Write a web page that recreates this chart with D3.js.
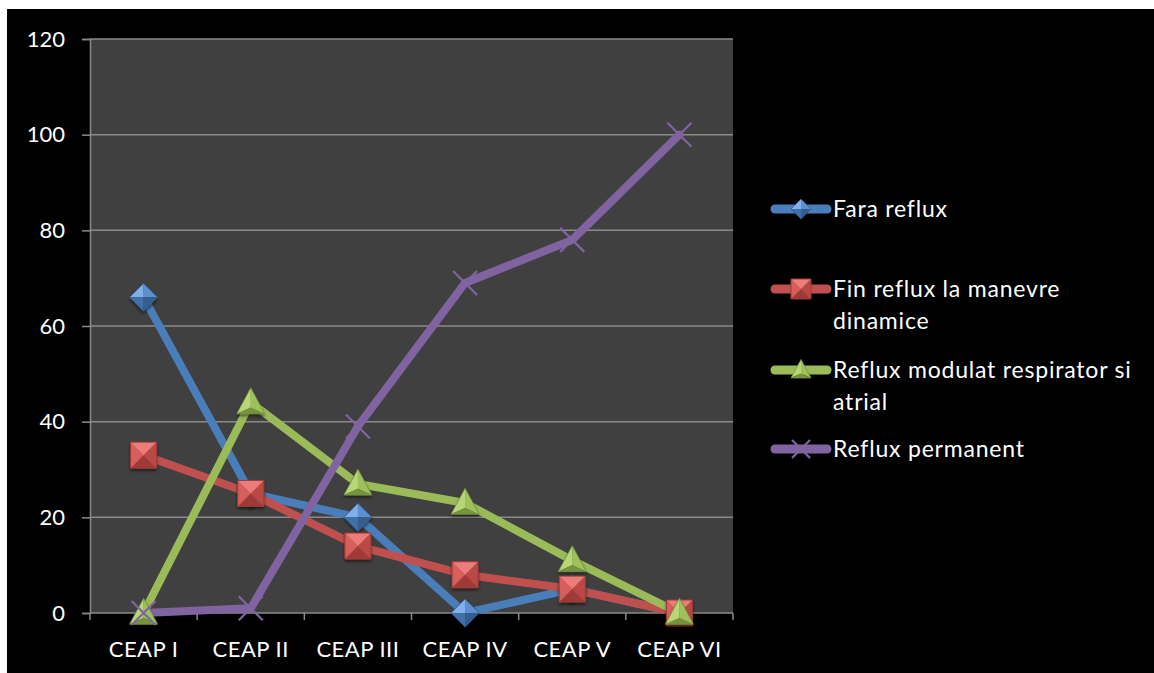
<!DOCTYPE html>
<html>
<head>
<meta charset="utf-8">
<script src="https://cdn.jsdelivr.net/npm/d3@7"></script>
<style>
  html, body { margin: 0; padding: 0; background: #fff; }
  svg { display: block; }
  text { font-family: Lato, "Open Sans", sans-serif; fill: #fff; }
</style>
</head>
<body>
<svg id="chart" width="1154" height="673"></svg>
<script>
// Categories, tick values and series
const categories = ["CEAP I", "CEAP II", "CEAP III", "CEAP IV", "CEAP V", "CEAP VI"];
const yTicks = [0, 20, 40, 60, 80, 100, 120];
const seriesNames = [
  "Fara reflux",
  "Fin reflux la manevre dinamice",
  "Reflux modulat respirator si atrial",
  "Reflux permanent"
];
const faraReflux = [66, 25, 20, 0, 5, 0];
const finReflux = [33, 25, 14, 8, 5, 0];
const refluxModulat = [0, 44, 27, 23, 11, 0];
const refluxPermanent = [0, 1, 39, 69, 78, 100];
const legendLines = [
  ["Fara reflux"],
  ["Fin reflux la manevre", "dinamice"],
  ["Reflux modulat respirator si", "atrial"],
  ["Reflux permanent"]
];

const series = [
  { name: seriesNames[0], values: faraReflux, color: "#4a7ebb", shape: "diamond",
    shades: ["#7fb0ea", "#5b90d0", "#3f6fa8", "#345d8e"] },
  { name: seriesNames[1], values: finReflux, color: "#c0504d", shape: "square",
    shades: ["#ec7d7a", "#d65f5c", "#b84845", "#9e3a37"] },
  { name: seriesNames[2], values: refluxModulat, color: "#9bbb59", shape: "triangle",
    shades: ["#b9d677", "#9fc15c", "#87a84a", "#76943f"] },
  { name: seriesNames[3], values: refluxPermanent, color: "#8064a2", shape: "x" }
];

const svg = d3.select("#chart");
const W = 1154, H = 673;

// Chart background (black panel with a thin white margin top/left)
svg.append("rect").attr("x", 7).attr("y", 9).attr("width", W - 7).attr("height", H - 9).attr("fill", "#000");

const plot = { left: 90, right: 733, top: 39, bottom: 613 };

const x = d3.scaleBand().domain(categories).range([plot.left, plot.right]).padding(0);
const y = d3.scaleLinear().domain([0, 120]).range([plot.bottom, plot.top]);
const cx = c => x(c) + x.bandwidth() / 2;

const defs = svg.append("defs");
const shadow = defs.append("filter").attr("id", "mshadow")
  .attr("x", "-50%").attr("y", "-50%").attr("width", "200%").attr("height", "200%");
shadow.append("feDropShadow").attr("dx", 0).attr("dy", 2).attr("stdDeviation", 1.5)
  .attr("flood-color", "#000").attr("flood-opacity", 0.55);

// Plot area
svg.append("rect")
  .attr("x", plot.left).attr("y", plot.top)
  .attr("width", plot.right - plot.left).attr("height", plot.bottom - plot.top)
  .attr("fill", "#404040");

// Horizontal gridlines
svg.append("g").selectAll("line").data(yTicks.filter(t => t > 0)).join("line")
  .attr("x1", plot.left).attr("x2", plot.right)
  .attr("y1", d => y(d)).attr("y2", d => y(d))
  .attr("stroke", "#8a8a8a").attr("stroke-width", 1.5);

// Y axis
const yAxis = svg.append("g").attr("transform", `translate(${plot.left},0)`)
  .call(d3.axisLeft(y).tickValues(yTicks).tickSize(8).tickPadding(17));
yAxis.select(".domain").attr("stroke", "#8a8a8a").attr("stroke-width", 1.5);
yAxis.selectAll(".tick line").attr("stroke", "#8a8a8a").attr("stroke-width", 1.5);
yAxis.selectAll(".tick text").attr("font-size", 22).attr("font-family", "Lato").attr("fill", "#fff");

// X axis with ticks at category boundaries
const xAxisG = svg.append("g").attr("transform", `translate(0,${plot.bottom})`);
xAxisG.append("line").attr("x1", plot.left).attr("x2", plot.right)
  .attr("stroke", "#8a8a8a").attr("stroke-width", 1.5);
xAxisG.selectAll("line.tk").data(categories.concat([null])).join("line").attr("class", "tk")
  .attr("x1", (d, i) => plot.left + i * x.bandwidth()).attr("x2", (d, i) => plot.left + i * x.bandwidth())
  .attr("y1", 0).attr("y2", 7).attr("stroke", "#8a8a8a").attr("stroke-width", 1.5);
xAxisG.selectAll("text").data(categories).join("text")
  .attr("x", d => cx(d)).attr("y", 44)
  .attr("text-anchor", "middle").attr("font-size", 22).attr("letter-spacing", 0.5).text(d => d);

// Series lines
const line = d3.line().x((d, i) => cx(categories[i])).y(d => y(d));
svg.append("g").selectAll("path").data(series).join("path")
  .attr("d", s => line(s.values))
  .attr("fill", "none").attr("stroke", s => s.color)
  .attr("stroke-width", 8).attr("stroke-linejoin", "round").attr("stroke-linecap", "round");

// Bevelled marker drawing (facets relative to the marker centre)
function drawMarker(g, s, r) {
  const sh = s.shades;
  if (s.shape === "square") {
    const pts = [[-r, -r], [r, -r], [r, r], [-r, r]];
    g.append("polygon").attr("points", pts.join(" ")).attr("fill", sh[1]);
    g.append("polygon").attr("points", [[-r, -r], [r, -r], [0, 0]].join(" ")).attr("fill", sh[0]);
    g.append("polygon").attr("points", [[-r, -r], [-r, r], [0, 0]].join(" ")).attr("fill", sh[1]);
    g.append("polygon").attr("points", [[r, -r], [r, r], [0, 0]].join(" ")).attr("fill", sh[2]);
    g.append("polygon").attr("points", [[-r, r], [r, r], [0, 0]].join(" ")).attr("fill", sh[3]);
    g.append("polygon").attr("points", pts.join(" ")).attr("fill", "none")
      .attr("stroke", sh[3]).attr("stroke-width", 1);
  } else if (s.shape === "diamond") {
    const t = [0, -r], rr = [r, 0], b = [0, r], l = [-r, 0];
    g.append("polygon").attr("points", [l, t, [0, 0]].join(" ")).attr("fill", sh[0]);
    g.append("polygon").attr("points", [t, rr, [0, 0]].join(" ")).attr("fill", sh[1]);
    g.append("polygon").attr("points", [l, b, [0, 0]].join(" ")).attr("fill", sh[2]);
    g.append("polygon").attr("points", [rr, b, [0, 0]].join(" ")).attr("fill", sh[3]);
    g.append("polygon").attr("points", [l, t, rr, b].join(" ")).attr("fill", "none")
      .attr("stroke", sh[3]).attr("stroke-width", 0.8);
  } else if (s.shape === "triangle") {
    const t = [0, -r * 1.05], bl = [-r, r * 0.8], br = [r, r * 0.8], c = [0, r * 0.35];
    g.append("polygon").attr("points", [t, bl, c].join(" ")).attr("fill", sh[0]);
    g.append("polygon").attr("points", [t, br, c].join(" ")).attr("fill", sh[1]);
    g.append("polygon").attr("points", [bl, br, c].join(" ")).attr("fill", sh[3]);
    g.append("polygon").attr("points", [t, bl, br].join(" ")).attr("fill", "none")
      .attr("stroke", sh[3]).attr("stroke-width", 0.8);
  } else {
    g.append("path").attr("d", `M${-r},${-r}L${r},${r}M${r},${-r}L${-r},${r}`)
      .attr("stroke", s.color).attr("stroke-width", 2.2).attr("fill", "none");
  }
}

const markerR = { diamond: 14, square: 13, triangle: 14, x: 12 };
series.forEach(s => {
  const g = svg.append("g");
  s.values.forEach((v, i) => {
    const m = g.append("g")
      .attr("transform", `translate(${cx(categories[i])},${y(v)})`)
      .attr("filter", s.shape === "x" ? null : "url(#mshadow)");
    drawMarker(m, s, markerR[s.shape]);
  });
});

// Legend
const legendY = [209, 289, 370, 449];
const legend = svg.append("g");
series.forEach((s, i) => {
  const g = legend.append("g").attr("transform", `translate(0,${legendY[i]})`);
  g.append("line").attr("x1", 775).attr("x2", 827).attr("y1", 0).attr("y2", 0)
    .attr("stroke", s.color).attr("stroke-width", 9).attr("stroke-linecap", "round");
  const m = g.append("g").attr("transform", "translate(801,0)");
  drawMarker(m, s, s.shape === "x" ? 9 : 10);
  legendLines[i].forEach((t, j) => {
    g.append("text").attr("x", 833).attr("y", j * 32).attr("dy", "0.35em")
      .attr("font-size", 23).attr("letter-spacing", 0.8).text(t);
  });
});
</script>
</body>
</html>
